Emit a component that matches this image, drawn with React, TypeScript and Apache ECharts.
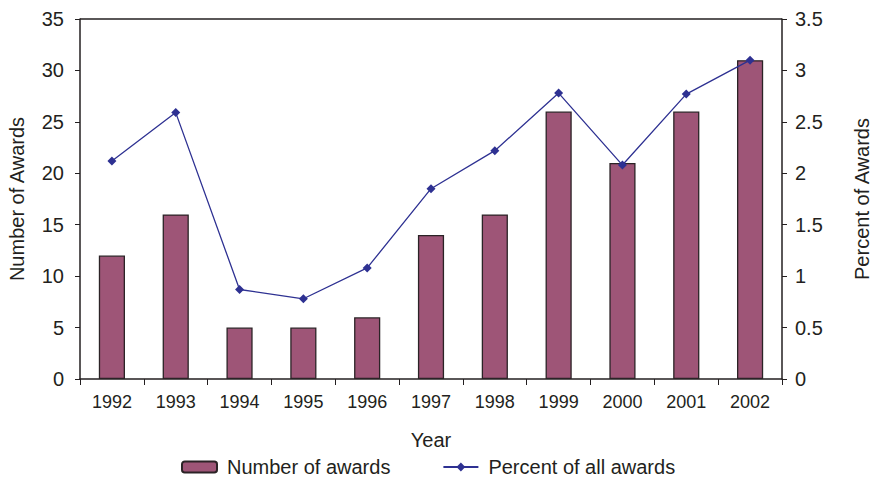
import React, { useEffect, useRef } from "react";
import * as echarts from "echarts";

const years = ["1992", "1993", "1994", "1995", "1996", "1997", "1998", "1999", "2000", "2001", "2002"];
const numberOfAwards = [12, 16, 5, 5, 6, 14, 16, 26, 21, 26, 31];
const percentOfAwards = [2.12, 2.59, 0.87, 0.78, 1.08, 1.85, 2.22, 2.78, 2.08, 2.77, 3.1];

const FONT = "Liberation Sans, Arial, Helvetica, sans-serif";
const TEXT = "#231f20";

export default function App() {
  const ref = useRef<HTMLDivElement>(null);
  useEffect(() => {
    document.body.style.margin = "0";
    document.body.style.overflow = "hidden";
    if (!ref.current) return;
    const chart = echarts.init(ref.current, null, { renderer: "svg" });
    chart.setOption({
      animation: false,
      backgroundColor: "#ffffff",
      textStyle: { fontFamily: FONT, color: TEXT },
      grid: { left: 80, right: 91, top: 19, bottom: 99, containLabel: false, outerBoundsMode: "none" },
      legend: {
        bottom: 1,
        left: 181,
        padding: 0,
        itemGap: 52,
        itemWidth: 35,
        itemHeight: 11,
        textStyle: { fontFamily: FONT, fontSize: 20, color: TEXT, padding: [0, 0, 0, 5] },
        data: [
          { name: "Number of awards" },
          { name: "Percent of all awards" },
        ],
      },
      xAxis: {
        type: "category",
        data: years,
        name: "Year",
        nameLocation: "middle",
        nameGap: 51,
        nameTextStyle: { fontFamily: FONT, fontSize: 20, color: TEXT },
        axisLine: { lineStyle: { color: "#231f20", width: 1.5 } },
        axisTick: { show: true, length: 6, lineStyle: { color: "#231f20" } },
        axisLabel: { fontFamily: FONT, fontSize: 18, color: TEXT, margin: 14 },
      },
      yAxis: [
        {
          type: "value",
          min: 0,
          max: 35,
          interval: 5,
          name: "Number of Awards",
          nameLocation: "middle",
          nameGap: 53,
          nameTextStyle: { fontFamily: FONT, fontSize: 20, color: TEXT },
          axisLine: { show: true, lineStyle: { color: "#231f20", width: 1.5 } },
          axisTick: { show: true, length: 5, lineStyle: { color: "#231f20" } },
          axisLabel: { fontFamily: FONT, fontSize: 20, color: TEXT, margin: 16 },
          splitLine: { show: false },
        },
        {
          type: "value",
          min: 0,
          max: 3.5,
          interval: 0.5,
          name: "Percent of Awards",
          nameLocation: "middle",
          nameGap: 70,
          nameTextStyle: { fontFamily: FONT, fontSize: 20, color: TEXT },
          axisLine: { show: true, lineStyle: { color: "#231f20", width: 1.5 } },
          axisTick: { show: true, length: 5, lineStyle: { color: "#231f20" } },
          axisLabel: { fontFamily: FONT, fontSize: 20, color: TEXT, margin: 13 },
          splitLine: { show: false },
        },
      ],
      graphic: [
        {
          type: "line",
          shape: { x1: 80, y1: 19, x2: 782, y2: 19 },
          style: { stroke: "#231f20", lineWidth: 1.5 },
        },
      ],
      series: [
        {
          name: "Number of awards",
          type: "bar",
          data: numberOfAwards,
          yAxisIndex: 0,
          barWidth: "41%",
          itemStyle: { color: "#9e5577", borderColor: "#2b2326", borderWidth: 1.3 },
        },
        {
          name: "Percent of all awards",
          type: "line",
          data: percentOfAwards,
          yAxisIndex: 1,
          symbol: "diamond",
          symbolSize: 9,
          lineStyle: { color: "#2e3192", width: 1.3 },
          itemStyle: { color: "#2e3192" },
        },
      ],
    });
    return () => chart.dispose();
  }, []);
  return <div ref={ref} style={{ width: 873, height: 478 }} />;
}
